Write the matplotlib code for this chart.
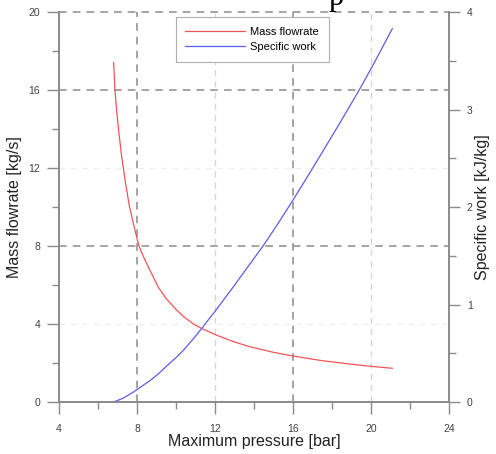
import numpy as np
import matplotlib
matplotlib.use('Agg')
import matplotlib.pyplot as plt

# ---------------------------------------------------------
# DATA
# ---------------------------------------------------------

# mass flowrate vs maximum pressure
p_flow = [6.8, 6.87, 6.95, 7.05, 7.2, 7.4, 7.6, 7.85, 8.1, 8.4, 8.7, 9.1, 9.5, 10.0,
          10.4, 10.9, 11.3, 12.1, 13.0, 13.8, 15.0, 16.0, 17.5, 18.9, 20.0, 21.1]
m_flow = [17.4, 16.0, 15.0, 14.0, 12.7, 11.3, 10.1, 9.0, 8.0, 7.3, 6.68, 5.88, 5.3, 4.75,
          4.37, 4.0, 3.78, 3.42, 3.08, 2.83, 2.55, 2.36, 2.12, 1.95, 1.83, 1.73]

# specific work vs maximum pressure
p_work = [6.8, 7.3, 7.8, 8.2, 8.7, 9.1, 9.5, 10.0, 10.4, 10.9, 11.3, 12.0,
          12.9, 13.7, 14.5, 15.2, 16.0, 16.8, 17.5, 18.4, 19.4, 20.2, 21.1]
w_work = [0.0, 0.04, 0.10, 0.155, 0.225, 0.29, 0.365, 0.455, 0.535, 0.65, 0.75, 0.93,
          1.17, 1.39, 1.61, 1.82, 2.07, 2.33, 2.56, 2.86, 3.2, 3.49, 3.83]

# ---------------------------------------------------------
# PLOTTING
# ---------------------------------------------------------

plt.rcParams['font.family'] = ['Liberation Sans', 'DejaVu Sans']

fig = plt.figure(figsize=(4.96, 4.54), dpi=100)
ax = fig.add_axes([0.119, 0.1145, 0.786, 0.859])
ax2 = ax.twinx()

spine_c = '#8a8a8a'
grid_dark = '#8c8c8c'
grid_light = '#d4d4d4'

# grid lines
for xv in [8, 16]:
    ax.axvline(xv, color=grid_dark, lw=1.1, ls=(0, (5, 4)), zorder=0)
for xv in [12, 20]:
    ax.axvline(xv, color=grid_light, lw=0.9, ls=(0, (5, 4)), zorder=0)
for yv in [8, 16]:
    ax.axhline(yv, color=grid_dark, lw=1.1, ls=(0, (5, 4)), zorder=0)
for yv in [4, 12]:
    ax.axhline(yv, color='#efefef', lw=0.9, ls=(0, (5, 4)), zorder=0)
ax.axhline(20, color=grid_dark, lw=1.1, ls=(0, (5, 4)), clip_on=False, zorder=0)

l1, = ax.plot(p_flow, m_flow, color='#f05555', lw=0.9, label='Mass flowrate')
l2, = ax2.plot(p_work, w_work, color='#5c5cf0', lw=0.9, label='Specific work')

ax.set_xlim(4, 24)
ax.set_ylim(0, 20)
ax2.set_ylim(0, 4)

ax.set_xticks(np.arange(4, 25, 4))
ax.set_xticks(np.arange(6, 24, 4), minor=True)
ax.set_yticks(np.arange(0, 21, 4))
ax.set_yticks(np.arange(2, 20, 4), minor=True)
ax2.set_yticks(np.arange(0, 5, 1))
ax2.set_yticks(np.arange(0.5, 4, 1), minor=True)

for a in (ax, ax2):
    for s in a.spines.values():
        s.set_color(spine_c)
        s.set_linewidth(1.2)
    a.spines['top'].set_visible(False)

ax.tick_params(axis='both', which='major', length=8.5, width=1.0, color=spine_c,
               labelsize=7.5, labelcolor='#404040', pad=5)
ax.tick_params(axis='both', which='minor', length=5, width=1.0, color=spine_c)
ax.tick_params(axis='x', which='major', pad=7)
ax2.tick_params(axis='y', which='major', length=8, width=1.0, color=spine_c,
                labelsize=7.5, labelcolor='#404040', pad=5)
ax2.tick_params(axis='y', which='minor', length=5, width=1.0, color=spine_c)

ax.set_xlabel('Maximum pressure [bar]', fontsize=11.5, color='#222222')
ax.set_ylabel('Mass flowrate [kg/s]', fontsize=11.5, color='#222222')
ax2.set_ylabel('Specific work [kJ/kg]', fontsize=11.5, color='#222222')
ax.xaxis.set_label_coords(0.5, -0.082)
ax.yaxis.set_label_coords(-0.095, 0.5)
ax2.yaxis.set_label_coords(1.067, 0.5)

leg = ax.legend(handles=[l1, l2], loc='upper left', bbox_to_anchor=(0.30, 0.987),
                borderaxespad=0, fontsize=8, fancybox=False, framealpha=1,
                edgecolor='#b0b0b0', handlelength=5.4, handletextpad=0.45,
                borderpad=0.85, labelspacing=0.5)
leg.get_frame().set_linewidth(0.8)
leg.set_zorder(5)

# stray glyph from the page above
fig.text(0.662, 1 - 5 / 454, 'p', family='Liberation Serif', fontsize=22,
         va='baseline', ha='left', color='black')

fig.savefig('out.png', dpi=100)
